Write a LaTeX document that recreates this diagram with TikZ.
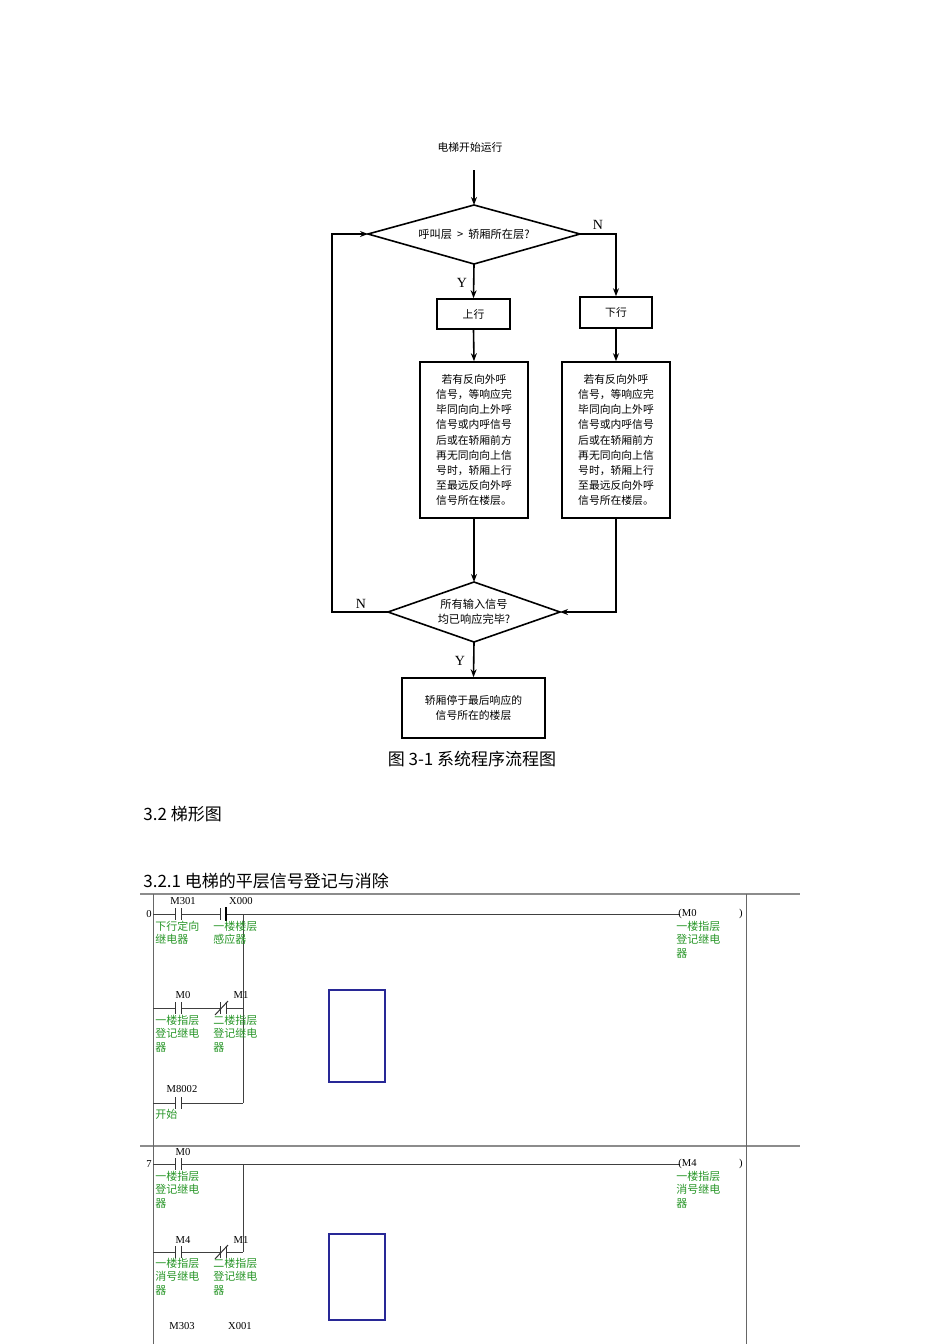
\documentclass[tikz,border=0pt]{standalone}
\usepackage{fontspec}
\setmainfont{Noto Sans CJK SC}
\newfontfamily\serifx{Liberation Serif}
\usetikzlibrary{shapes.geometric,arrows.meta}
\definecolor{lgreen}{RGB}{40,150,40}
\definecolor{rblue}{RGB}{40,40,150}
\tikzset{
 box/.style={draw,thick,inner sep=0pt,font=\fontsize{5.4}{7.6}\selectfont,align=center},
 arr/.style={thick,-{Stealth[length=4pt,width=3pt]}},
 yn/.style={font=\serifx\fontsize{7}{8}\selectfont},
 addr/.style={font=\serifx\fontsize{5.3}{5.5}\selectfont,inner sep=0pt},
 gtxt/.style={text=lgreen,font=\fontsize{5.5}{6.6}\selectfont,align=left,anchor=north west,inner sep=0pt},
 rung/.style={draw=black!75,line width=0.5pt}
}
\newcommand{\ctc}[2]{\fill[white](#1-3,#2-6) rectangle (#1+3,#2+6);
 \draw[black!80,line width=0.5pt](#1-3,#2-6)--(#1-3,#2+6)(#1+3,#2-6)--(#1+3,#2+6);}
\newcommand{\nctc}[2]{\ctc{#1}{#2}\draw[black!80,line width=0.5pt](#1-8,#2+7)--(#1+5,#2-7);}
\begin{document}
\begin{tikzpicture}[x=0.5pt,y=-0.5pt]
\useasboundingbox (0,0) rectangle (950,1344);
% flowchart
\node[font=\fontsize{5.4}{6}\selectfont] (start) at (470,147) {电梯开始运行};
\coordinate (s0) at (474,170);
\draw[thick] (368,234)--(474,205)--(580,234)--(474,264)--cycle;
\node[font=\fontsize{5.6}{6}\selectfont] (q1) at (474,234) {呼叫层 \ > \ 轿厢所在层?};
\coordinate (d1l) at (368,234); \coordinate (d1r) at (580,234);
\coordinate (d1b) at (474,264); \coordinate (d1t) at (474,205);
\draw[arr] (s0)--(d1t);
\node[box,minimum width=36.5pt,minimum height=15pt] (up) at (473.5,314) {上行};
\node[box,minimum width=36pt,minimum height=15.5pt] (down) at (616,312.5) {下行};
\node[box,minimum width=54pt,minimum height=78pt] (bl) at (474,440) {若有反向外呼\\信号，等响应完\\毕同向向上外呼\\信号或内呼信号\\后或在轿厢前方\\再无同向向上信\\号时，轿厢上行\\至最远反向外呼\\信号所在楼层。};
\node[box,minimum width=54pt,minimum height=78pt] (br) at (616,440) {若有反向外呼\\信号，等响应完\\毕同向向上外呼\\信号或内呼信号\\后或在轿厢前方\\再无同向向上信\\号时，轿厢上行\\至最远反向外呼\\信号所在楼层。};
\draw[thick] (388,612)--(474,582)--(560,612)--(474,642)--cycle;
\node[font=\fontsize{5.6}{7.6}\selectfont,align=center] (q2) at (474,612) {所有输入信号\\均已响应完毕?};
\coordinate (d2l) at (388,612); \coordinate (d2r) at (560,612);
\coordinate (d2t) at (474,582); \coordinate (d2b) at (474,642);
\node[box,minimum width=71.5pt,minimum height=30pt] (fin) at (473.5,708) {轿厢停于最后响应的\\信号所在的楼层};
\draw[arr] (d1b)--(up.north);
\draw[arr] (d1r)-|(down.north);
\draw[arr] (up.south)--(bl.north);
\draw[arr] (down.south)--(br.north);
\draw[arr] (bl.south)--(d2t);
\draw[arr] (br.south)|-(d2r);
\draw[arr] (d2l)--(332,612)|-(d1l);
\draw[arr] (d2b)--(fin.north);
\node[yn] at (598,225) {N};
\node[yn] at (462,283) {Y};
\node[yn] at (361,604) {N};
\node[yn] at (460,661) {Y};
\node[font=\fontsize{8.5}{9}\selectfont] (cap) at (472,759) {图 3-1 系统程序流程图};
\node[font=\fontsize{8.5}{9}\selectfont,anchor=west,inner sep=0pt] (h1) at (143,814) {3.2 梯形图};
\node[font=\fontsize{8.5}{9}\selectfont,anchor=west,inner sep=0pt] (h2) at (143,881) {3.2.1 电梯的平层信号登记与消除};
% ladder frame
\draw[black!45,line width=0.6pt] (140,894)--(800,894) (140,1146)--(800,1146);
\draw[black!60,line width=0.5pt] (153,894)--(153,1344) (746,894)--(746,1344);
% rung 0
\node[addr] at (149,914) {0};
\draw[rung] (153,914)--(680,914) (153,1008)--(243,1008) (153,1103)--(243,1103) (243,914)--(243,1103);
\ctc{178}{914}\ctc{223}{914}\ctc{178}{1008}\nctc{223}{1008}\ctc{178}{1103}
\draw[black,line width=1pt](226,907)--(226,921);
\node[addr] at (183,901) {M301};
\node[addr] at (241,901) {X000};
\node[addr] at (183,995) {M0};
\node[addr] at (241,995) {M1};
\node[addr] at (182,1089) {M8002};
\node[gtxt] at (155,921) {下行定向\\继电器};
\node[gtxt] at (213,921) {一楼楼层\\感应器};
\node[gtxt] at (155,1015) {一楼指层\\登记继电\\器};
\node[gtxt] at (213,1015) {二楼指层\\登记继电\\器};
\node[gtxt] at (155,1109) {开始};
\node[addr,anchor=west] at (678,914) {(M0};
\node[addr] at (741,914) {)};
\node[gtxt] at (676,921) {一楼指层\\登记继电\\器};
\draw[rblue,line width=0.8pt] (329,990) rectangle (385,1082);
% rung 7
\node[addr] at (149,1164) {7};
\draw[rung] (153,1164)--(680,1164) (153,1252)--(243,1252) (243,1164)--(243,1252);
\ctc{178}{1164}\ctc{178}{1252}\nctc{223}{1252}
\node[addr] at (183,1152) {M0};
\node[addr] at (183,1240) {M4};
\node[addr] at (241,1240) {M1};
\node[gtxt] at (155,1171) {一楼指层\\登记继电\\器};
\node[gtxt] at (155,1258) {一楼指层\\消号继电\\器};
\node[gtxt] at (213,1258) {二楼指层\\登记继电\\器};
\node[addr,anchor=west] at (678,1164) {(M4};
\node[addr] at (741,1164) {)};
\node[gtxt] at (676,1171) {一楼指层\\消号继电\\器};
\draw[rblue,line width=0.8pt] (329,1234) rectangle (385,1320);
\node[addr] at (182,1326) {M303};
\node[addr] at (240,1326) {X001};
\end{tikzpicture}
\end{document}
